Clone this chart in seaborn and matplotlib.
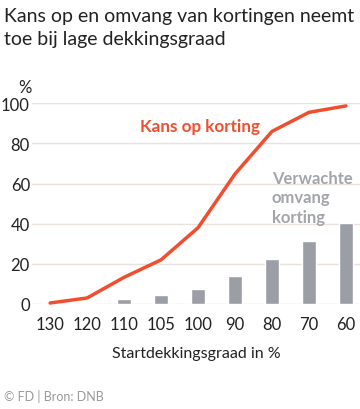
import numpy as np
import pandas as pd
import seaborn as sns
import matplotlib.pyplot as plt

# Data
dekkingsgraad = ['130', '120', '110', '105', '100', '90', '80', '70', '60']
kans_op_korting = [0.5, 3, 13.3, 22, 38, 64.8, 86, 95.5, 98.7]
omvang_korting = [0.3, 0.7, 2.7, 4.5, 7.5, 14.2, 22.6, 31.6, 40.4]
y_ticks = [0, 20, 40, 60, 80, 100]

df = pd.DataFrame({'dekking': dekkingsgraad,
                   'kans': kans_op_korting,
                   'omvang': omvang_korting})
df['pos'] = np.arange(len(df))

sns.set_theme(style='white')
plt.rcParams['font.family'] = ['Lato', 'DejaVu Sans']

red = '#f04e2f'
bar_grey = '#9b9ea5'
text_grey = '#a3a5ab'
grid_col = '#e9e1db'

fig = plt.figure(figsize=(3.6, 4.1), dpi=100)
ax = fig.add_axes([32 / 360, 105 / 410, 1 - 32 / 360, 200.7 / 410])

sns.barplot(data=df, x='dekking', y='omvang', order=dekkingsgraad,
            color=bar_grey, saturation=1, width=0.4, ax=ax, zorder=2)
sns.lineplot(data=df, x='pos', y='kans', color=red, linewidth=2.5,
             ax=ax, zorder=3, clip_on=False)

ax.set_xlim(-0.49, 8.38)
ax.set_ylim(0, 100)
ax.set_yticks(y_ticks)
ax.set_xticks(df['pos'])
ax.set_xticklabels(dekkingsgraad)
ax.grid(axis='y', color=grid_col, linewidth=1)
ax.set_axisbelow(True)
for s in ax.spines.values():
    s.set_visible(False)
ax.tick_params(axis='x', length=0, pad=9, labelsize=12, labelcolor='#222222')
ax.tick_params(axis='y', length=0, pad=1.5, labelsize=12, labelcolor='#222222')
ax.set_ylabel('')
ax.set_xlabel('Startdekkingsgraad in %', fontsize=11.5, color='#222222', labelpad=10)

ax.text(-0.5, 104, '%', ha='right', va='bottom', fontsize=12, color='#222222')

ax.text(2.43, 88.5, 'Kans op korting', color=red, fontsize=12.3,
        fontweight='bold', va='center', ha='left')
ax.text(6.0, 67, 'Verwachte\nomvang\nkorting', color=text_grey, fontsize=12,
        fontweight='bold', va='top', ha='left', linespacing=1.3)

fig.text(4 / 360, 1 - 8 / 410, 'Kans op en omvang van kortingen neemt\ntoe bij lage dekkingsgraad',
         ha='left', va='top', fontsize=14, color='#222222', linespacing=1.4)
fig.text(4 / 360, 1 - 397 / 410, '\u00a9 FD | Bron: DNB', ha='left', va='center',
         fontsize=9, color='#9a9a9a')

fig.savefig('out.png', dpi=100)
